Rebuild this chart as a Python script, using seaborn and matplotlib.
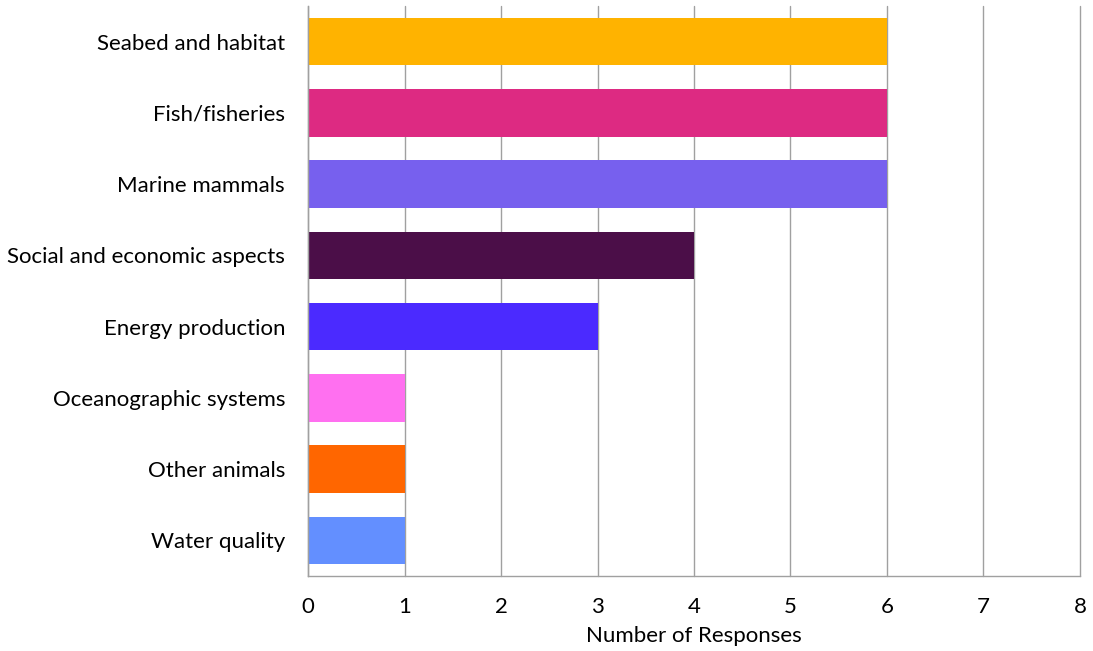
import matplotlib
matplotlib.use("Agg")
import matplotlib.pyplot as plt
import seaborn as sns
import pandas as pd
import numpy as np

categories = ["Seabed and habitat", "Fish/fisheries", "Marine mammals",
              "Social and economic aspects", "Energy production",
              "Oceanographic systems", "Other animals", "Water quality"]
responses = [6, 6, 6, 4, 3, 1, 1, 1]
colors = ["#FFB300", "#DD2A82", "#7760EE", "#4B0E48", "#4B2AFF",
          "#FF70F0", "#FF6600", "#638FFF"]
x_ticks = [0, 1, 2, 3, 4, 5, 6, 7, 8]

sns.set_theme(style="white")
plt.rcParams['font.family'] = ['Lato', 'DejaVu Sans']

df = pd.DataFrame({"category": categories, "responses": responses})

fig = plt.figure(figsize=(10.93, 6.51), dpi=100)
ax = fig.add_axes([0.2818, 0.1152, 0.9881 - 0.2818, 0.9908 - 0.1152])

sns.barplot(data=df, y="category", x="responses", hue="category",
            palette=colors, order=categories, hue_order=categories,
            width=0.67, legend=False, ax=ax, saturation=1, linewidth=0)

grid_c = "#A0A0A0"
fs = 16
ax.set_xlim(0, 8)
ax.set_ylim(len(categories) - 0.5, -0.5)
ax.set_xticks(x_ticks)
ax.set_xticklabels([str(t) for t in x_ticks], fontsize=fs, color="black")
ax.xaxis.grid(True, color=grid_c, linewidth=1)
for gl in ax.get_xgridlines():
    gl.set_clip_on(False)
ax.set_axisbelow(True)
ax.tick_params(axis="x", length=6, color=grid_c, width=1, direction="inout", pad=12)

ax.set_yticks(range(len(categories)))
ax.set_yticklabels(categories, fontsize=fs, color="black")
ax.tick_params(axis="y", which="major", length=0, pad=16.5)
ax.set_yticks(np.arange(-0.5, len(categories) + 0.5, 1), minor=True)
ax.tick_params(axis="y", which="minor", length=6, color=grid_c, width=1, direction="out")

for s in ["top", "right"]:
    ax.spines[s].set_visible(False)
for s in ["left", "bottom"]:
    ax.spines[s].set_color(grid_c)
    ax.spines[s].set_linewidth(1)

ax.set_xlabel("Number of Responses", fontsize=fs, color="black", labelpad=6.5)
ax.set_ylabel("")

fig.savefig("out.png", dpi=100)
